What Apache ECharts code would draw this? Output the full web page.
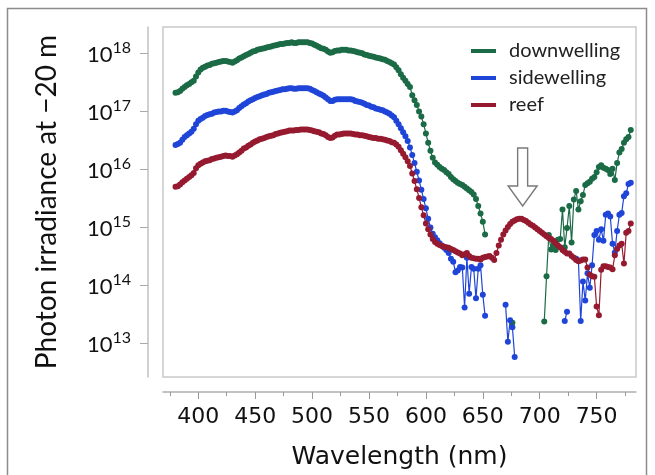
<!DOCTYPE html>
<html><head><meta charset="utf-8">
<script src="https://cdn.jsdelivr.net/npm/echarts@6/dist/echarts.min.js"></script>
<style>html,body{margin:0;padding:0;background:#fff}#c{width:655px;height:475px}</style>
</head><body><div id="c"></div>
<script>
// Wavelength grid (nm)
const wavelength = [
380,382,384,386,388,390,392,394,396,398,
400,402,404,406,408,410,412,414,416,418,
420,422,424,426,428,430,432,434,436,438,
440,442,444,446,448,450,452,454,456,458,
460,462,464,466,468,470,472,474,476,478,
480,482,484,486,488,490,492,494,496,498,
500,502,504,506,508,510,512,514,516,518,
520,522,524,526,528,530,532,534,536,538,
540,542,544,546,548,550,552,554,556,558,
560,562,564,566,568,570,572,574,576,578,
580,582,584,586,588,590,592,594,596,598,
600,602,604,606,608,610,612,614,616,618,
620,622,624,626,628,630,632,634,636,638,
640,642,644,646,648,650,652,654,656,658,
660,662,664,666,668,670,672,674,676,678,
680,682,684,686,688,690,692,694,696,698,
700,702,704,706,708,710,712,714,716,718,
720,722,724,726,728,730,732,734,736,738,
740,742,744,746,748,750,752,754,756,758,
760,762,764,766,768,770,772,774,776,778,
780];

// Photon irradiance, log10 of the value
const downwellingLog10 = [
17.31,17.32,17.34,17.38,17.41,17.44,17.46,17.49,17.52,17.59,
17.66,17.71,17.74,17.76,17.78,17.79,17.81,17.82,17.83,17.84,
17.85,17.86,17.86,17.85,17.84,17.83,17.85,17.87,17.90,17.92,
17.94,17.96,17.98,18.00,18.02,18.03,18.05,18.06,18.07,18.08,
18.09,18.10,18.11,18.12,18.13,18.14,18.15,18.15,18.16,18.17,
18.17,18.18,18.17,18.17,18.18,18.18,18.18,18.18,18.18,18.17,
18.16,18.14,18.12,18.10,18.08,18.07,18.05,18.02,18.00,18.01,
18.03,18.04,18.04,18.05,18.05,18.05,18.04,18.04,18.03,18.02,
18.01,18.00,17.99,17.97,17.96,17.95,17.94,17.93,17.92,17.91,
17.90,17.89,17.88,17.86,17.84,17.82,17.80,17.75,17.70,17.63,
17.57,17.52,17.46,17.41,17.27,17.18,17.10,16.99,16.90,16.77,
16.61,16.45,16.31,16.19,16.11,16.07,16.03,16.00,15.98,15.94,
15.91,15.86,15.82,15.79,15.76,15.74,15.72,15.69,15.66,15.63,
15.60,15.56,15.48,15.36,15.23,15.09,14.87,null,null,null,
null,null,null,null,null,null,null,null,13.35,null,
null,null,null,null,null,null,null,null,null,null,
null,null,13.37,14.15,14.86,14.61,14.68,14.60,14.78,14.79,
15.30,14.65,14.98,15.36,14.73,15.47,15.62,15.30,15.44,15.55,
15.72,15.75,15.78,15.83,15.86,15.94,16.03,16.06,16.02,16.00,
15.98,15.91,16.00,15.81,16.10,16.28,16.34,16.45,16.51,16.55,
16.67];

const sidewellingLog10 = [
16.41,16.43,16.45,16.50,16.55,16.58,16.61,16.64,16.69,16.77,
16.83,16.86,16.88,16.91,16.93,16.94,16.95,16.97,16.98,16.99,
16.99,17.00,17.00,16.99,16.98,16.97,16.99,17.01,17.05,17.08,
17.11,17.13,17.16,17.18,17.20,17.22,17.24,17.25,17.27,17.28,
17.29,17.31,17.32,17.33,17.34,17.35,17.36,17.37,17.37,17.38,
17.39,17.39,17.38,17.38,17.39,17.39,17.39,17.39,17.39,17.38,
17.36,17.34,17.32,17.30,17.28,17.26,17.23,17.20,17.17,17.17,
17.19,17.20,17.20,17.20,17.20,17.20,17.20,17.20,17.19,17.17,
17.16,17.15,17.14,17.12,17.10,17.09,17.07,17.06,17.04,17.03,
17.02,17.01,16.99,16.97,16.95,16.92,16.89,16.83,16.77,16.70,
16.63,16.56,16.48,16.37,16.24,16.10,15.95,15.80,15.64,15.48,
15.32,15.14,14.99,14.88,14.82,14.77,14.72,14.68,14.64,14.60,
14.55,14.45,14.40,14.22,14.25,14.31,14.30,13.61,14.47,13.85,
14.31,14.28,13.77,14.28,14.34,13.83,13.47,null,null,null,
null,null,null,null,null,13.66,13.02,13.39,13.27,12.76,
null,null,null,null,null,null,null,null,null,null,
null,null,null,null,null,null,null,null,null,null,
null,13.38,13.54,null,null,null,14.45,14.42,13.38,14.06,
13.73,14.20,13.95,14.34,14.86,14.93,14.78,14.96,14.76,15.21,
15.23,15.18,14.71,14.56,14.93,15.21,15.24,15.53,15.58,15.74,
15.76];

const reefLog10 = [
15.69,15.70,15.73,15.77,15.80,15.83,15.86,15.89,15.93,16.01,
16.06,16.09,16.11,16.13,16.14,16.15,16.17,16.18,16.19,16.20,
16.21,16.22,16.23,16.22,16.22,16.21,16.23,16.25,16.28,16.31,
16.35,16.37,16.40,16.42,16.45,16.47,16.49,16.51,16.52,16.53,
16.55,16.56,16.57,16.58,16.60,16.61,16.62,16.63,16.64,16.65,
16.66,16.66,16.66,16.67,16.67,16.68,16.68,16.68,16.68,16.67,
16.66,16.65,16.64,16.63,16.61,16.60,16.58,16.55,16.53,16.54,
16.57,16.59,16.59,16.60,16.61,16.61,16.61,16.61,16.60,16.59,
16.59,16.58,16.58,16.57,16.56,16.55,16.54,16.53,16.53,16.52,
16.52,16.51,16.50,16.49,16.48,16.46,16.45,16.42,16.38,16.32,
16.26,16.20,16.13,16.05,15.92,15.79,15.65,15.50,15.34,15.20,
15.06,14.96,14.87,14.79,14.74,14.71,14.69,14.67,14.66,14.65,
14.64,14.62,14.60,14.58,14.56,14.54,14.51,14.53,14.55,14.50,
14.47,14.46,14.45,14.45,14.44,14.47,14.48,14.49,14.50,14.47,
14.43,14.55,14.68,14.78,14.87,14.94,15.00,15.05,15.09,15.11,
15.13,15.14,15.14,15.12,15.10,15.07,15.04,15.02,14.99,14.96,
14.93,14.90,14.87,14.84,14.81,14.79,14.76,14.72,14.68,14.65,
14.60,14.57,14.54,14.54,14.50,14.47,14.43,14.41,14.42,14.44,
14.44,14.30,14.18,14.15,14.14,13.63,13.48,14.26,14.32,14.32,
14.31,14.30,14.27,14.51,14.62,14.68,14.71,14.37,14.90,14.93,
15.06];

const xTickValues = [400,450,500,550,600,650,700,750];
const xMinorTickValues = [375,425,475,525,575,625,675,725,775];
const yTickExponents = [13,14,15,16,17,18];
const seriesNames = ['downwelling','sidewelling','reef'];
const seriesColors = ['#1b6b46','#1f45d8','#961a2f'];
// arrow annotation tip (wavelength nm, log10 irradiance)
const arrowTip = [685, 15.36];

const chart = echarts.init(document.getElementById('c'), null, {renderer:'canvas'});
function pairs(ys){ return wavelength.map((x,i)=>[x, ys[i] === null ? '-' : ys[i]]); }
const allSeries = [downwellingLog10, sidewellingLog10, reefLog10];

const xMin = 369, xMax = 784.6, yMin = 12.414, yMax = 18.444;

chart.setOption({
  animation:false,
  backgroundColor:'#fff',
  grid:{left:163, right:19, top:27, bottom:91, show:true, borderColor:'#c9c9c9', borderWidth:1.5},
  legend:{
    orient:'vertical', left:466, top:36, itemWidth:25, itemHeight:4, itemGap:7,
    selectedMode:false,
    data: seriesNames.map(n=>({name:n, icon:'rect'})),
    textStyle:{fontFamily:'Lato', fontSize:20, color:'#222', padding:[0,0,0,8], lineHeight:20}
  },
  xAxis:[{
    type:'value', min:xMin, max:xMax, position:'bottom', offset:15,
    axisLine:{show:true, lineStyle:{color:'#b0b0b0', width:1.5}},
    axisTick:{show:true, customValues:xTickValues, length:7, lineStyle:{color:'#999', width:1}},
    axisLabel:{customValues:xTickValues, fontFamily:'DejaVu Sans', fontSize:22, color:'#111', margin:14},
    splitLine:{show:false},
    name:'Wavelength (nm)', nameLocation:'middle', nameGap:53,
    nameTextStyle:{fontFamily:'DejaVu Sans', fontSize:25, color:'#111'}
  },{
    type:'value', min:xMin, max:xMax, position:'bottom', offset:15,
    axisLine:{show:false},
    axisTick:{show:true, customValues:xMinorTickValues, length:4, lineStyle:{color:'#999', width:1}},
    axisLabel:{show:false},
    splitLine:{show:false}
  }],
  yAxis:{
    type:'value', min:yMin, max:yMax, offset:15,
    axisLine:{show:true, lineStyle:{color:'#c0c0c0', width:1.5}},
    axisTick:{show:true, customValues:yTickExponents, length:8, lineStyle:{color:'#aaa', width:1}},
    axisLabel:{
      customValues:yTickExponents, margin:17,
      formatter: v => '{b|10}{s|' + v + '}',
      rich:{
        b:{fontFamily:'Lato', fontSize:22, color:'#111', lineHeight:26, verticalAlign:'bottom'},
        s:{fontFamily:'Lato', fontSize:16, color:'#111', lineHeight:26, verticalAlign:'top'}
      }
    },
    splitLine:{show:false},
    name:'Photon irradiance at \u221220 m', nameLocation:'middle', nameGap:87,
    nameTextStyle:{fontFamily:'Lato', fontSize:28, color:'#111'}
  },
  series: allSeries.map((ys,k)=>({
    name:seriesNames[k], type:'line', xAxisIndex:0, yAxisIndex:0,
    data:pairs(ys), connectNulls:false,
    symbol:'circle', symbolSize:6, showSymbol:true, showAllSymbol:true,
    lineStyle:{color:seriesColors[k], width:1.2},
    itemStyle:{color:seriesColors[k]},
    emphasis:{disabled:true}
  }))
});

const tip = chart.convertToPixel({xAxisIndex:0, yAxisIndex:0}, arrowTip);
chart.setOption({
  graphic:[
    {type:'rect', shape:{x:7.5, y:8.5, width:639, height:520}, style:{fill:null, stroke:'#8c8c8c', lineWidth:1.5}, silent:true},
    {type:'polygon', x:tip[0], y:tip[1],
     shape:{points:[[-5,-58],[5,-58],[5,-20],[14.5,-20],[0,0],[-14.5,-20],[-5,-20]]},
     style:{fill:'#fff', stroke:'#7a7a7a', lineWidth:1.4}, silent:true}
  ]
});
</script></body></html>
